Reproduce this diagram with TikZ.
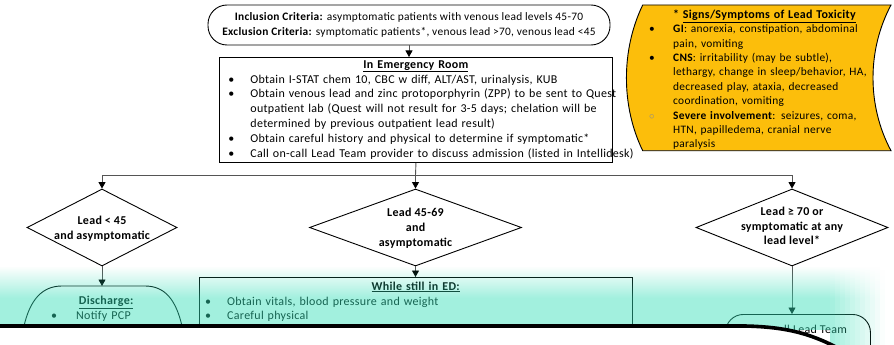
\documentclass[tikz,border=0pt]{standalone}
\usepackage{fontspec}
\setmainfont{Carlito}[LetterSpace=2.5]
\usetikzlibrary{shapes.geometric,arrows.meta,fadings}

\definecolor{gold}{HTML}{FCBE0B}
\definecolor{mint}{HTML}{31DEB6}
\definecolor{wire}{HTML}{555555}

\tikzfading[name=tealrise, top color=transparent!100, bottom color=transparent!0]

% bullet list item with hanging indent
\newlength{\bulind}\setlength{\bulind}{28pt}
\newlength{\bulpre}\setlength{\bulpre}{6pt}
\newcommand{\bitem}[2][\textbullet]{\par\noindent\hangindent=\bulind\hangafter=1%
  \makebox[\bulind][l]{\hspace{\bulpre}#1}#2}

\tikzset{
  txt/.style={font=\fontsize{12}{14.9}\selectfont, inner sep=0pt},
  smalltxt/.style={font=\fontsize{11.4}{14.4}\selectfont, inner sep=0pt},
  boldtxt/.style={font=\fontsize{12}{14.8}\selectfont\bfseries, inner sep=0pt, align=center},
  box/.style={draw, line width=0.9pt, fill=white},
  decision/.style={diamond, draw, line width=0.9pt, inner sep=0pt},
  link/.style={draw=wire, line width=0.9pt},
  flow/.style={link, -{Triangle[width=7pt,length=6.5pt,black]}},
}

\begin{document}
\begin{tikzpicture}[x=1pt,y=-1pt]
\useasboundingbox (0,0) rectangle (894,345);
\clip (0,0) rectangle (894,345);
\fill[white] (0,0) rectangle (894,345);

% entry criteria
\node[box, smalltxt, rounded corners=19pt, minimum width=402pt, minimum height=40pt, align=center,
      font=\fontsize{11.4}{14.8}\selectfont]
  (incl) at (409,25)
  {\textbf{Inclusion Criteria:} asymptomatic patients with venous lead levels 45-70\\
   \textbf{Exclusion Criteria:} symptomatic patients*, venous lead >70, venous lead <45};

% emergency room work-up
\node[box, txt, anchor=north west, minimum width=393pt, minimum height=105pt,
      text width=387pt, inner xsep=3pt, inner ysep=1pt] (er) at (219,57)
  {{\centering\textbf{\underline{In Emergency Room}}\par}
   \raggedright
   \bitem{\mbox{Obtain I-STAT chem 10, CBC w diff, ALT/AST, urinalysis, KUB}}
   \bitem{\mbox{Obtain venous lead and zinc protoporphyrin (ZPP) to be sent to Quest}\newline
          \mbox{outpatient lab (Quest will not result for 3-5 days; chelation will be}\newline
          \mbox{determined by previous outpatient lead result)}}
   \bitem{\mbox{Obtain careful history and physical to determine if symptomatic*}}
   \bitem{\mbox{Call on-call Lead Team provider to discuss admission (listed in Intellidesk)}}\par};

% signs and symptoms panel
\fill[gold, draw=black, line width=0.9pt]
  (642.7,5) -- (891,5) .. controls (867,50) and (867,106) .. (891,150.7)
  -- (642.7,150.7) .. controls (621,106) and (621,50) .. (642.7,5) -- cycle;
\setlength{\bulind}{24pt}\setlength{\bulpre}{0pt}
\node[smalltxt, anchor=north west, text width=230pt] (tox) at (649,9.5)
  {\raggedright
   \hspace*{24pt}{\fontsize{12}{14.4}\selectfont\textbf{*~\underline{Signs/Symptoms of Lead Toxicity}}}\par
   \bitem{\mbox{\textbf{GI}: anorexia, constipation, abdominal}\newline pain, vomiting}
   \bitem{\mbox{\textbf{CNS}: irritability (may be subtle),}\newline
          \mbox{lethargy, change in sleep/behavior, HA,}\newline
          \mbox{decreased play, ataxia, decreased}\newline
          coordination, vomiting}
   \bitem[{\color{black!45}$\circ$}]{\mbox{\textbf{Severe involvement}: seizures, coma,}\newline
          \mbox{HTN, papilledema, cranial nerve}\newline paralysis}\par};

% decisions
\node[decision, minimum width=150pt, minimum height=77pt] (d1) at (102,227.5) {};
\node[boldtxt] (d1t) at ([yshift=-1pt]d1) {Lead < 45\\and asymptomatic};
\node[decision, minimum width=212pt, minimum height=77pt] (d2) at (415.5,227.5) {};
\node[boldtxt] (d2t) at ([yshift=-1pt]d2) {Lead 45-69\\and\\asymptomatic};
\node[decision, minimum width=192pt, minimum height=77pt] (d3) at (792,227.5) {};
\node[boldtxt] (d3t) at ([yshift=1.5pt]d3) {Lead ≥ 70 or\\symptomatic at any\\lead level*};

% outcomes
\coordinate (distop) at (102,286);
\draw[line width=0.9pt, fill=white]
  (24,340) -- (24,326) .. controls (30,300) and (42,286) .. (62,286) -- (145,286)
  .. controls (165,286) and (176,300) .. (182,326) -- (182,340);
\setlength{\bulind}{25pt}\setlength{\bulpre}{0pt}
\node[txt, anchor=north west, text width=110pt] (dis) at (51,296)
  {{\centering\textbf{\underline{Discharge:}}\par}
   \raggedright\bitem{Notify PCP}\par};

\node[box, anchor=north west, minimum width=433pt, minimum height=70pt] (ed) at (199,277) {};
\setlength{\bulind}{25pt}\setlength{\bulpre}{3pt}
\node[txt, anchor=north west, text width=427pt] (edt) at (202,281.5)
  {{\centering\textbf{\underline{While still in ED:}}\par}
   \raggedright
   \bitem{Obtain vitals, blood pressure and weight}
   \bitem{Careful physical}\par};

\node[box, rounded corners=18pt, anchor=north west, minimum width=145pt, minimum height=50pt] (team) at (725,314) {};
\node[txt, anchor=base west] (teamt) at (784,333) {ll Lead Team};

% connectors
\coordinate (bus) at (415.5,175);
\draw[flow] (incl.south) -- (incl.south |- er.north);
\draw[link] (er.south) -- (bus);
\draw[flow] (bus) -| (d1.north);
\draw[flow] (bus) -| (d3.north);
\draw[flow] (bus) -- (d2.north);
\draw[flow] (d1.south) -- (distop);
\draw[flow] (d2.south) -- (d2.south |- ed.north);
\draw[flow] (d3.south) -- (d3.south |- team.north);

% mint wash over the lower band
\fill[mint, opacity=0.45, path fading=tealrise] (0,266) rectangle (830,298);
\fill[mint, opacity=0.45] (0,298) rectangle (830,330);
\foreach \k in {0,...,10}{
  \pgfmathsetmacro\op{0.45*(1-(\k+0.5)/11)}
  \fill[mint, opacity=\op, path fading=tealrise] ({830+5*\k},266) rectangle ({835+5*\k},298);
  \fill[mint, opacity=\op] ({830+5*\k},298) rectangle ({835+5*\k},345);
}

% curled sheet edge
\fill[white] (-5,326) -- (745,326) .. controls (790,327) and (815,335) .. (845,352) -- (-5,352) -- cycle;
\draw[line width=3.6pt] (-5,326) -- (745,326) .. controls (790,327) and (815,335) .. (845,352);
\end{tikzpicture}
\end{document}
